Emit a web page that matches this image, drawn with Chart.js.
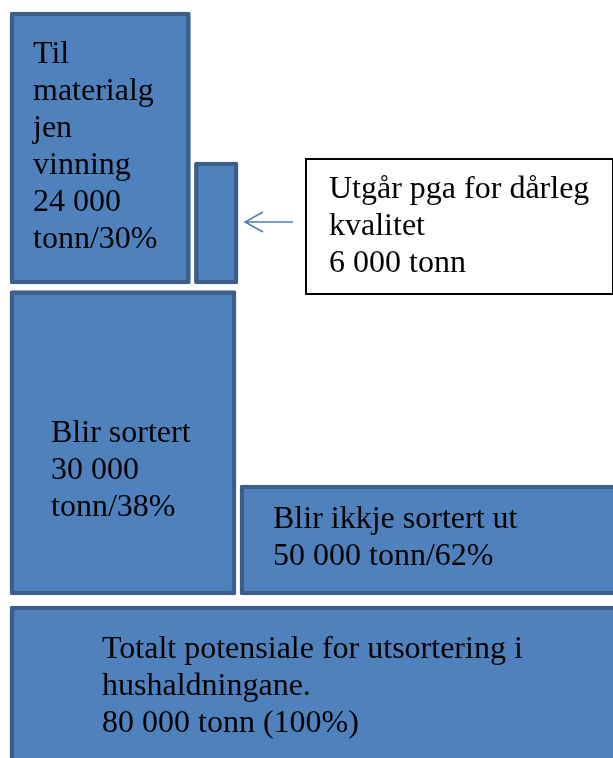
<!DOCTYPE html>
<html lang="nn">
<head>
<meta charset="utf-8">
<title>Potensiale for utsortering</title>
<script src="https://cdn.jsdelivr.net/npm/chart.js@4.4.1/dist/chart.umd.min.js"></script>
<style>
  html, body { margin: 0; padding: 0; background: #fff; }
  #boks { width: 613px; height: 758px; }
</style>
</head>
<body>
<div id="boks"><canvas id="diagram"></canvas></div>
<script>
// Mengder (tonn) – breidda på kvar søyle følgjer mengda
const kategoriar = ['Til materialgjenvinning', 'Utgår pga for dårleg kvalitet', 'Blir sortert', 'Blir ikkje sortert ut', 'Totalt potensiale for utsortering i hushaldningane.'];
const tonn = [24000, 6000, 30000, 50000, 80000];
const prosent = [30, null, 38, 62, 100];
const rad = [0, 0, 1, 1, 2];

// startpunkt = summen av søylene til venstre i same rad
const start = tonn.map((t, i) =>
  tonn.slice(0, i).filter((_, j) => rad[j] === rad[i]).reduce((a, b) => a + b, 0));

function tal(n) {
  return String(n).replace(/\B(?=(\d{3})+(?!\d))/g, ' ');
}

const tekstlinjer = [
  ['Til', 'materialg', 'jen', 'vinning', tal(tonn[0]), 'tonn/' + prosent[0] + '%'],
  [],
  ['Blir sortert', tal(tonn[2]), 'tonn/' + prosent[2] + '%'],
  ['Blir ikkje sortert ut', tal(tonn[3]) + ' tonn/' + prosent[3] + '%'],
  ['Totalt potensiale for utsortering i', 'hushaldningane.', tal(tonn[4]) + ' tonn (' + prosent[4] + '%)']
];
const merknad = ['Utgår pga for dårleg', 'kvalitet', tal(tonn[1]) + ' tonn'];

// oppsett i pikslar (ikkje data)
const plassering = [
  { midt: 148, hogd: 272, tekst: [23, 51] },
  { midt: 223, hogd: 122 },
  { midt: 442.75, hogd: 304.5, tekst: [41, 151.5] },
  { midt: 540, hogd: 110, tekst: [33, 43] },
  { midt: 753, hogd: 294, tekst: [92, 52] }
];
const GAP = 4;
const LINJE = 37;
const FONT = '32px "Liberation Serif", "Times New Roman", serif';

const mellomrom = {
  id: 'mellomrom',
  beforeDatasetsDraw(chart) {
    const xs = chart.scales.x;
    chart.data.datasets.forEach((ds, i) => {
      const el = chart.getDatasetMeta(i).data[0];
      const [a, b] = ds.data[0].x;
      const harHogre = tonn.some((_, j) => j !== i && rad[j] === rad[i] && start[j] === b);
      el.base = xs.getPixelForValue(a) + (a > 0 ? GAP / 2 : 0);
      el.x = xs.getPixelForValue(b) - (harHogre ? GAP / 2 : 0);
    });
  }
};

const tekstar = {
  id: 'tekstar',
  afterDatasetsDraw(chart) {
    const ctx = chart.ctx;
    ctx.save();
    ctx.font = FONT;
    ctx.fillStyle = '#000';
    ctx.textBaseline = 'alphabetic';
    tekstlinjer.forEach((linjer, i) => {
      if (!linjer.length) return;
      const el = chart.getDatasetMeta(i).data[0];
      const venstre = Math.min(el.x, el.base);
      const topp = el.y - el.height / 2;
      const [dx, dy] = plassering[i].tekst;
      linjer.forEach((l, k) => ctx.fillText(l, venstre + dx, topp + dy + k * LINJE));
    });

    // merknad med pil mot den vesle søyla
    const el = chart.getDatasetMeta(1).data[0];
    const hogre = Math.max(el.x, el.base);
    const topp = el.y - el.height / 2;
    const spiss = hogre + 7;
    const py = el.y - 1;
    ctx.strokeStyle = '#4A7EBB';
    ctx.lineWidth = 1.5;
    ctx.beginPath();
    ctx.moveTo(spiss + 48, py);
    ctx.lineTo(spiss, py);
    ctx.moveTo(spiss + 18, py - 10);
    ctx.lineTo(spiss, py);
    ctx.lineTo(spiss + 18, py + 10);
    ctx.stroke();

    const bx = hogre + 68, by = topp - 3, bw = 307, bh = 135;
    ctx.fillStyle = '#fff';
    ctx.fillRect(bx, by, bw, bh);
    ctx.strokeStyle = '#000';
    ctx.lineWidth = 2;
    ctx.strokeRect(bx, by, bw, bh);
    ctx.fillStyle = '#000';
    merknad.forEach((l, k) => ctx.fillText(l, bx + 23, by + 39 + k * LINJE));
    ctx.restore();
  }
};

new Chart(document.getElementById('diagram'), {
  type: 'bar',
  data: {
    labels: kategoriar,
    datasets: tonn.map((t, i) => ({
      label: kategoriar[i],
      data: [{ x: [start[i], start[i] + t], y: plassering[i].midt }],
      barThickness: plassering[i].hogd,
      backgroundColor: '#4F81BD',
      borderColor: '#3B5E8B',
      borderWidth: 4.5,
      borderRadius: 2,
      borderSkipped: false,
      grouped: false
    }))
  },
  options: {
    indexAxis: 'y',
    responsive: true,
    maintainAspectRatio: false,
    animation: false,
    events: [],
    layout: { padding: 0 },
    plugins: {
      legend: { display: false },
      tooltip: { enabled: false }
    },
    scales: {
      x: { type: 'linear', display: false, min: -1316, max: 79342 },
      y: { type: 'linear', display: false, min: 0, max: 758, reverse: true, offset: false }
    }
  },
  plugins: [mellomrom, tekstar]
});
</script>
</body>
</html>
